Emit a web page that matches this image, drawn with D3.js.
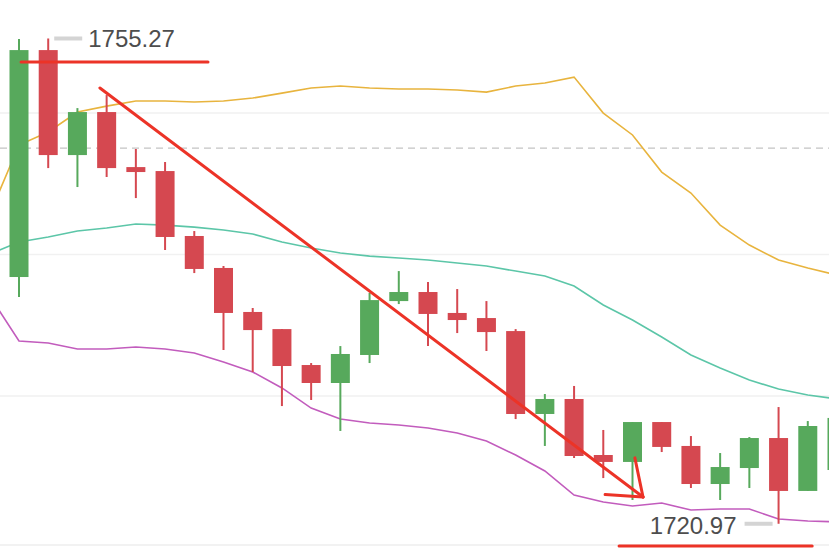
<!DOCTYPE html>
<html>
<head>
<meta charset="utf-8">
<script src="https://d3js.org/d3.v7.min.js"></script>
<style>
body
{
    margin: 0;
    background: #fff;
}
svg
{
    display: block;
}
</style>
</head>
<body>
<svg id="chart" width="829" height="559"></svg>

<script>
    // candle values (first candle is the tall green one)
    var openP  = [1738.41, 1754.45, 1747.03, 1750.07, 1746.18, 1745.90, 1741.31, 1739.05, 1735.94, 1734.73,
                  1732.19, 1730.92, 1732.90, 1736.71, 1737.35, 1735.87, 1735.51, 1734.59, 1728.73, 1729.79,
                  1725.83, 1725.34, 1728.16, 1726.47, 1723.78, 1724.91, 1727.03, 1723.29, 1724.77]
    var highP  = [1755.23, 1755.27, 1750.35, 1751.27, 1747.46, 1746.54, 1741.66, 1739.19, 1736.22, 1734.73,
                  1732.33, 1733.53, 1737.28, 1738.83, 1738.06, 1737.56, 1736.71, 1734.73, 1730.14, 1730.71,
                  1727.60, 1728.16, 1728.16, 1727.17, 1725.97, 1727.10, 1729.22, 1728.23, 1728.80]
    var lowP   = [1737.00, 1746.11, 1744.77, 1745.48, 1743.99, 1740.32, 1738.69, 1733.25, 1731.70, 1729.29,
                  1729.72, 1727.53, 1732.33, 1736.50, 1733.53, 1734.45, 1733.18, 1728.37, 1726.47, 1725.62,
                  1724.20, 1722.65, 1726.04, 1723.50, 1722.65, 1723.50, 1720.97, 1723.29, 1724.40]
    var closeP = [1754.45, 1747.03, 1750.07, 1746.11, 1745.83, 1741.24, 1738.98, 1735.87, 1734.66, 1732.12,
                  1730.92, 1732.97, 1736.78, 1737.35, 1735.80, 1735.37, 1734.52, 1728.73, 1729.79, 1725.76,
                  1725.34, 1728.16, 1726.40, 1723.78, 1724.98, 1727.03, 1723.29, 1727.88, 1728.45]

    // bollinger bands, these start one bar earlier (the bar left of the screen)
    var upperBand = [1742.86, 1747.74, 1748.66, 1750.07, 1750.49, 1750.85, 1750.85, 1750.78, 1750.85, 1751.06,
                     1751.41, 1751.77, 1751.91, 1751.77, 1751.70, 1751.70, 1751.63, 1751.48, 1751.91, 1752.12,
                     1752.54, 1750.00, 1748.45, 1745.83, 1744.35, 1742.08, 1740.67, 1739.61, 1739.05, 1738.55]
    var midBand   = [1740.04, 1740.88, 1741.24, 1741.66, 1741.87, 1742.16, 1742.08, 1741.94, 1741.73, 1741.45,
                     1740.88, 1740.46, 1740.11, 1739.89, 1739.75, 1739.61, 1739.40, 1739.19, 1738.83, 1738.48,
                     1737.77, 1736.43, 1735.37, 1734.17, 1732.90, 1731.98, 1731.13, 1730.49, 1730.07, 1729.79]
    var lowerBand = [1737.07, 1733.89, 1733.75, 1733.32, 1733.32, 1733.46, 1733.32, 1733.04, 1732.40, 1731.70,
                     1730.57, 1729.15, 1728.37, 1728.09, 1727.95, 1727.74, 1727.39, 1726.82, 1725.83, 1724.70,
                     1723.00, 1722.51, 1722.23, 1722.44, 1721.94, 1722.01, 1722.01, 1721.31, 1721.17, 1721.10]

    var gridPrices = [1750, 1740, 1730]
    var dashPrice = 1747.52
    var highLabel = 1755.27, highIdx = 1
    var lowLabel = 1720.97, lowIdx = 26

    // hand drawn red marks, in (bar index, price)
    var topLine = [[0.07, 1753.6], [6.47, 1753.6]]
    var arrowLine = [[2.77, 1751.77], [21.36, 1722.86]]
    var bottomLine = [[20.54, 1719.40], [27.15, 1719.40]]

    var W = 829, H = 559, plotBottom = 545
    var green = "#57a95c", red = "#d54850", markRed = "#ec3327"

    var svg = d3.select("#chart")

    var x = d3.scaleLinear().domain([0, 28]).range([19, 837])
    var y = d3.scaleLinear().domain([1718.48, 1757.99]).range([H, 0])
    var bodyW = 19

    //grid lines
    svg.selectAll(".grid")
        .data(gridPrices)
        .enter()
        .append("line")
        .attr("x1", 0).attr("x2", W)
        .attr("y1", d => y(d)).attr("y2", d => y(d))
        .attr("stroke", "#f1f1f1")
        .attr("stroke-width", 1.5)

    svg.append("line")
        .attr("x1", 0).attr("x2", W)
        .attr("y1", plotBottom).attr("y2", plotBottom)
        .attr("stroke", "#eeeeee")
        .attr("stroke-width", 1.5)

    svg.append("line")
        .attr("x1", 0).attr("x2", W)
        .attr("y1", y(dashPrice)).attr("y2", y(dashPrice))
        .attr("stroke", "#c4c4c4")
        .attr("stroke-width", 1.2)
        .attr("stroke-dasharray", "7,5")

    //bands
    function bandLine(vals, color) {
        var line = d3.line()
            .x((d, i) => x(i - 1))
            .y(d => y(d))
        svg.append("path")
            .datum(vals)
            .attr("d", line)
            .attr("fill", "none")
            .attr("stroke", color)
            .attr("stroke-width", 1.6)
    }
    bandLine(upperBand, "#e8b43e")
    bandLine(midBand, "#5cc6a8")
    bandLine(lowerBand, "#c25cbd")

    //candles
    var candles = openP.map((o, i) => ({i: i, o: o, h: highP[i], l: lowP[i], c: closeP[i]}))

    var g = svg.selectAll(".candle")
        .data(candles)
        .enter()
        .append("g")

    g.append("line")
        .attr("x1", d => x(d.i)).attr("x2", d => x(d.i))
        .attr("y1", d => y(d.h)).attr("y2", d => y(d.l))
        .attr("stroke", d => d.c >= d.o ? green : red)
        .attr("stroke-width", 2)

    g.append("rect")
        .attr("x", d => x(d.i) - bodyW / 2)
        .attr("width", bodyW)
        .attr("y", d => y(Math.max(d.o, d.c)))
        .attr("height", d => Math.max(2, Math.abs(y(d.o) - y(d.c))))
        .attr("fill", d => d.c >= d.o ? green : red)

    //red marks
    function redLine(pts) {
        svg.append("line")
            .attr("x1", x(pts[0][0])).attr("y1", y(pts[0][1]))
            .attr("x2", x(pts[1][0])).attr("y2", y(pts[1][1]))
            .attr("stroke", markRed)
            .attr("stroke-width", 3)
            .attr("stroke-linecap", "round")
    }
    redLine(topLine)
    redLine(bottomLine)
    redLine(arrowLine)

    // arrow head
    var tx = x(arrowLine[1][0]), ty = y(arrowLine[1][1])
    var ang = Math.atan2(ty - y(arrowLine[0][1]), tx - x(arrowLine[0][0]))
    ;[-0.58, 0.72].forEach(function(a, k) {
        var len = k == 0 ? 38 : 40
        svg.append("line")
            .attr("x1", tx).attr("y1", ty)
            .attr("x2", tx - len * Math.cos(ang + a))
            .attr("y2", ty - len * Math.sin(ang + a))
            .attr("stroke", markRed)
            .attr("stroke-width", 3)
            .attr("stroke-linecap", "round")
    })

    //max / min price labels
    var hx = x(highIdx), hy = y(highLabel)
    svg.append("line")
        .attr("x1", hx + 6).attr("x2", hx + 34)
        .attr("y1", hy).attr("y2", hy)
        .attr("stroke", "#d4d4d4").attr("stroke-width", 4)
    svg.append("text")
        .attr("x", hx + 40).attr("y", hy + 9)
        .attr("font-family", "Liberation Sans, Arial, sans-serif")
        .attr("font-size", 24)
        .attr("fill", "#4d4d4d")
        .text(highLabel.toFixed(2))

    var lx = x(lowIdx), ly = y(lowLabel)
    svg.append("line")
        .attr("x1", lx - 34).attr("x2", lx - 6)
        .attr("y1", ly).attr("y2", ly)
        .attr("stroke", "#d4d4d4").attr("stroke-width", 4)
    svg.append("text")
        .attr("x", lx - 42).attr("y", ly + 10)
        .attr("text-anchor", "end")
        .attr("font-family", "Liberation Sans, Arial, sans-serif")
        .attr("font-size", 24)
        .attr("fill", "#4d4d4d")
        .text(lowLabel.toFixed(2))
</script>
</body>
</html>
